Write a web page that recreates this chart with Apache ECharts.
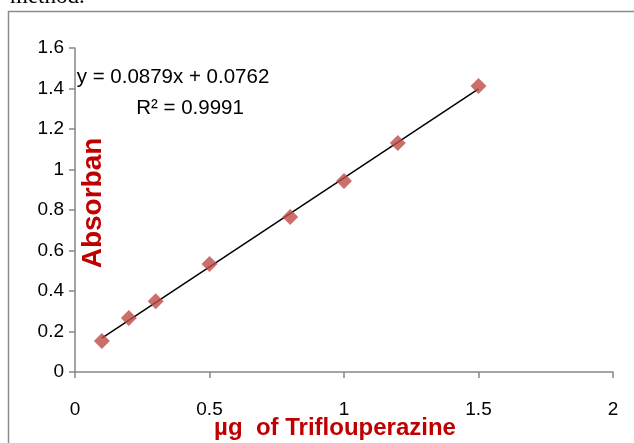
<!DOCTYPE html>
<html><head><meta charset="utf-8">
<script src="https://cdn.jsdelivr.net/npm/echarts@6/dist/echarts.min.js"></script>
<style>html,body{margin:0;padding:0;background:#fff}#c{width:634px;height:443px}</style>
</head><body><div id="c"></div>
<script>
var xValues = [0.1, 0.2, 0.3, 0.5, 0.8, 1.0, 1.2, 1.5];
var yValues = [0.153, 0.267, 0.35, 0.533, 0.765, 0.943, 1.131, 1.412];
var xTicks = [0, 0.5, 1, 1.5, 2];
var yTicks = [0, 0.2, 0.4, 0.6, 0.8, 1, 1.2, 1.4, 1.6];
var equationText = 'y = 0.0879x + 0.0762';
var r2Text = 'R² = 0.9991';
var xTitle = 'µg  of Triflouperazine';
var yTitle = 'Absorban';

// least-squares trendline from data
var n = xValues.length, sx = 0, sy = 0, sxx = 0, sxy = 0;
for (var i = 0; i < n; i++) { sx += xValues[i]; sy += yValues[i]; sxx += xValues[i]*xValues[i]; sxy += xValues[i]*yValues[i]; }
var slope = (n*sxy - sx*sy) / (n*sxx - sx*sx);
var icpt = (sy - slope*sx) / n;
var xmin = Math.min.apply(null, xValues), xmax = Math.max.apply(null, xValues);
var trend = [[xmin, icpt + slope*xmin], [xmax, icpt + slope*xmax]];

var chart = echarts.init(document.getElementById('c'));
var font = 'Liberation Sans';
chart.setOption({
  animation: false,
  backgroundColor: '#fff',
  grid: { left: 75, right: 21, top: 48, bottom: 71, containLabel: false },
  xAxis: {
    type: 'value', min: 0, max: 2, interval: 0.5,
    axisLine: { show: true, lineStyle: { color: '#868686', width: 1.5 } },
    axisTick: { show: true, length: 6, lineStyle: { color: '#868686', width: 1.5 } },
    splitLine: { show: false },
    axisLabel: { color: '#000', fontFamily: font, fontSize: 19, margin: 28,
      formatter: function (v) { return xTicks.indexOf(v) >= 0 ? String(v) : ''; } }
  },
  yAxis: {
    type: 'value', min: 0, max: 1.6, interval: 0.2,
    axisLine: { show: true, lineStyle: { color: '#868686', width: 1.5 } },
    axisTick: { show: true, length: 6, lineStyle: { color: '#868686', width: 1.5 } },
    splitLine: { show: false },
    axisLabel: { color: '#000', fontFamily: font, fontSize: 19, margin: 11,
      formatter: function (v) { var r = Math.round(v*10)/10; return yTicks.indexOf(r) >= 0 ? String(r) : ''; } }
  },
  series: [
    { type: 'line', data: trend, symbol: 'none', lineStyle: { color: '#000', width: 1.5 }, z: 2 },
    { type: 'scatter', data: xValues.map(function (x, i) { return [x, yValues[i]]; }),
      symbol: 'diamond', symbolSize: 16, itemStyle: { color: '#be4b48' }, z: 3 }
  ],
  graphic: [
    { type: 'rect', shape: { x: 8.5, y: 11.5, width: 640, height: 450 }, style: { fill: 'none', stroke: '#8c8c8c', lineWidth: 1.5 }, silent: true },
    { type: 'text', left: 10, top: -15, style: { text: 'method.', font: '23px "Liberation Serif"', fill: '#000' } },
    { type: 'text', x: 173, y: 77, style: { text: equationText, font: '20.5px "Liberation Sans"', fill: '#000', align: 'center', verticalAlign: 'middle' } },
    { type: 'text', x: 190, y: 108, style: { text: r2Text, font: '20.5px "Liberation Sans"', fill: '#000', align: 'center', verticalAlign: 'middle' } },
    { type: 'text', x: 335, y: 428, style: { text: xTitle, font: 'bold 24px "Liberation Sans"', fill: '#c00000', align: 'center', verticalAlign: 'middle' } },
    { type: 'text', x: 93, y: 203, rotation: Math.PI/2, style: { text: yTitle, font: 'bold 28px "Liberation Sans"', fill: '#c00000', align: 'center', verticalAlign: 'middle' } }
  ]
});
</script></body></html>
